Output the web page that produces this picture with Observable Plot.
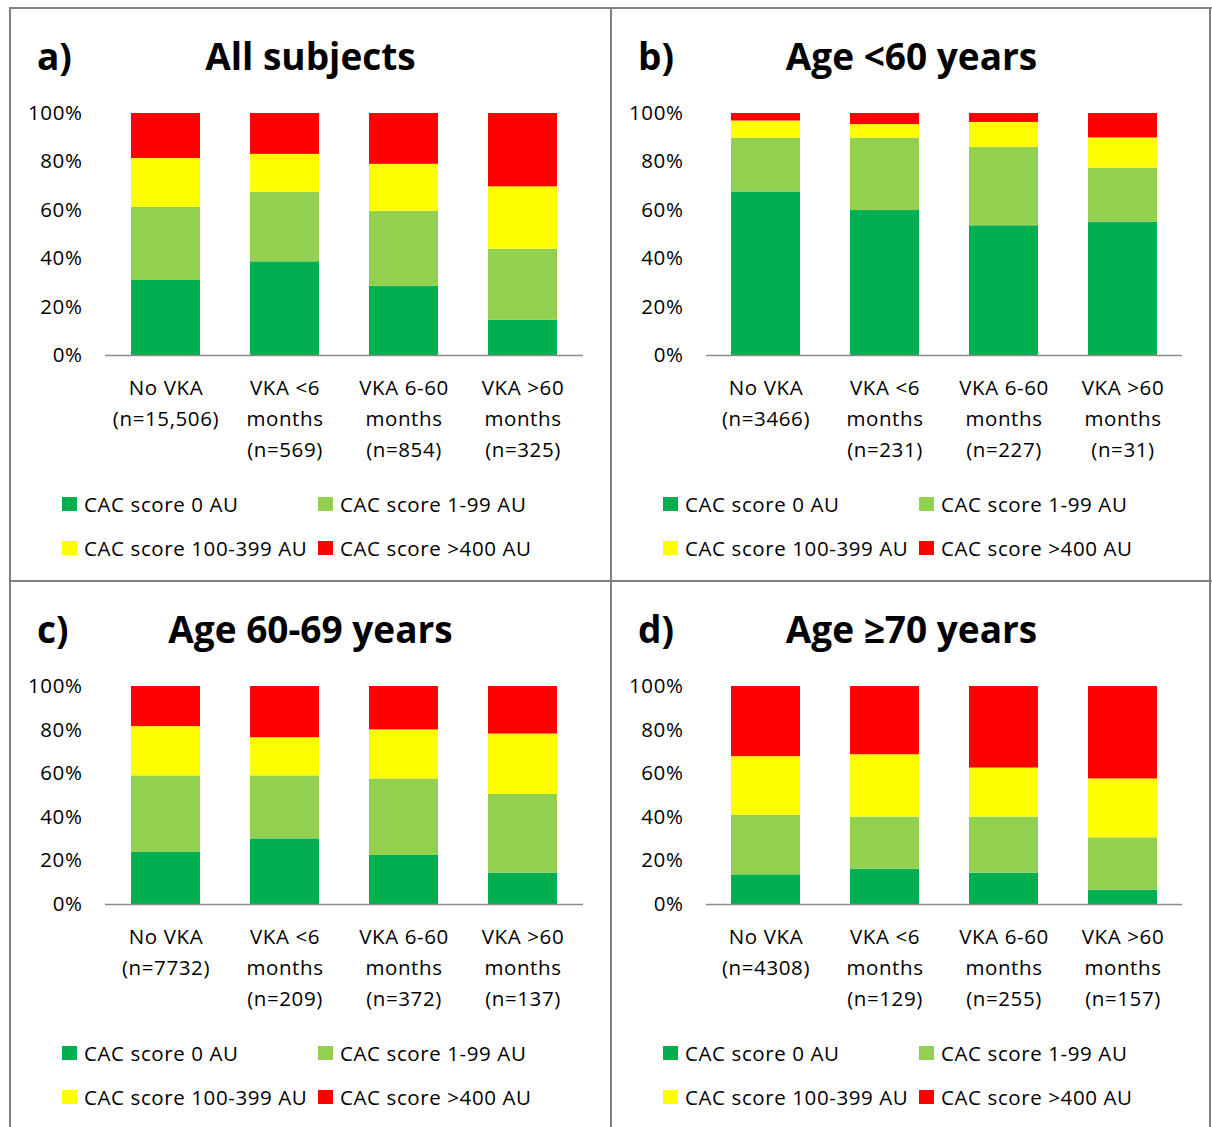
<!DOCTYPE html>
<html>
<head>
<meta charset="utf-8">
<script src="https://cdn.jsdelivr.net/npm/d3@7"></script>
<script src="https://cdn.jsdelivr.net/npm/@observablehq/plot@0.6"></script>
<style>
html, body { margin: 0; padding: 0; background: #fff; }
#page { position: relative; width: 1212px; height: 1127px; overflow: hidden; font-family: "Open Sans", sans-serif; color: #000; background: #fff; }
.line { position: absolute; background: #808080; }
.title { position: absolute; font-weight: 700; font-size: 37px; line-height: 37px; white-space: nowrap; }
.legrow { position: absolute; display: flex; align-items: center; height: 20px; font-size: 20.5px; line-height: 20px; letter-spacing: 0.6px; white-space: nowrap; }
.sw { width: 15px; height: 14px; flex: none; }
</style>
</head>
<body>
<div id="page"></div>
<script>
// ---- data ----
const groups = ["No VKA", "VKA <6\nmonths", "VKA 6-60\nmonths", "VKA >60\nmonths"];
const classes = ["CAC score 0 AU", "CAC score 1-99 AU", "CAC score 100-399 AU", "CAC score >400 AU"];
const classColors = ["#00b050", "#92d050", "#ffff00", "#ff0000"];
const yTicks = [0, 20, 40, 60, 80, 100];

const panelLetters = ["a)", "b)", "c)", "d)"];
const panelTitles = ["All subjects", "Age <60 years", "Age 60-69 years", "Age \u226570 years"];

const nAll = ["15,506", "569", "854", "325"];
const nUnder60 = ["3466", "231", "227", "31"];
const n60to69 = ["7732", "209", "372", "137"];
const n70plus = ["4308", "129", "255", "157"];

// percentages per CAC class (bottom to top), one value per group
const all_cac0 = [31.0, 38.7, 28.6, 14.6];
const all_cac1_99 = [30.2, 28.7, 31.0, 29.3];
const all_cac100_399 = [20.2, 15.7, 19.4, 25.8];
const all_cac400 = [18.6, 16.9, 21.0, 30.3];

const u60_cac0 = [67.6, 59.9, 53.6, 55.1];
const u60_cac1_99 = [22.2, 29.9, 32.4, 22.3];
const u60_cac100_399 = [7.1, 5.6, 10.3, 12.5];
const u60_cac400 = [3.1, 4.6, 3.7, 10.1];

const a6069_cac0 = [23.9, 30.1, 22.5, 14.4];
const a6069_cac1_99 = [35.1, 28.9, 35.1, 36.1];
const a6069_cac100_399 = [22.6, 17.5, 22.5, 27.7];
const a6069_cac400 = [18.4, 23.5, 19.9, 21.8];

const a70_cac0 = [13.6, 16.2, 14.4, 6.6];
const a70_cac1_99 = [27.3, 23.9, 25.7, 24.0];
const a70_cac100_399 = [26.9, 28.6, 22.5, 27.0];
const a70_cac400 = [32.2, 31.3, 37.4, 42.4];

const panelN = [nAll, nUnder60, n60to69, n70plus];
const panelSeries = [
  [all_cac0, all_cac1_99, all_cac100_399, all_cac400],
  [u60_cac0, u60_cac1_99, u60_cac100_399, u60_cac400],
  [a6069_cac0, a6069_cac1_99, a6069_cac100_399, a6069_cac400],
  [a70_cac0, a70_cac1_99, a70_cac100_399, a70_cac400]
];

// ---- layout ----
const page = document.getElementById("page");
function addLine(l, t, w, h) {
  const d = document.createElement("div");
  d.className = "line";
  Object.assign(d.style, {left: l + "px", top: t + "px", width: w + "px", height: h + "px"});
  page.appendChild(d);
}
addLine(9, 7, 1203, 2);
addLine(9, 7, 2, 1120);
addLine(1209, 7, 2, 1120);
addLine(610, 7, 2, 1120);
addLine(9, 580, 1203, 2);

// panel boxes: [left border, top border, plot left, plot right, plot top, plot bottom]
const boxes = [
  [10, 8, 105, 583, 113, 355],
  [611, 8, 706, 1182, 113, 355],
  [10, 581, 105, 583, 686, 904],
  [611, 581, 706, 1182, 686, 904]
];

boxes.forEach((b, p) => {
  const [x0, y0, pl, pr, pt, pb] = b;
  const labels = groups.map((g, i) => g + "\n(n=" + panelN[p][i] + ")");
  const rows = [];
  labels.forEach((lab, i) => {
    classes.forEach((c, k) => rows.push({group: lab, cls: c, value: panelSeries[p][k][i]}));
  });

  const svgLeft = x0 + 2, svgTop = pt - 30, svgW = 597, svgH = (pb + 125) - svgTop;
  const chart = Plot.plot({
    width: svgW,
    height: svgH,
    marginLeft: pl - svgLeft,
    marginRight: svgLeft + svgW - pr,
    marginTop: pt - svgTop,
    marginBottom: svgTop + svgH - pb,
    style: {fontFamily: "'Open Sans', sans-serif", fontSize: "20.5px", letterSpacing: "0.6px", color: "#000", background: "transparent", overflow: "visible"},
    x: {domain: labels, paddingInner: 0.42, paddingOuter: 0.21, label: null},
    y: {domain: [0, 100], label: null},
    color: {domain: classes, range: classColors},
    marks: [
      Plot.barY(rows, {x: "group", y: "value", fill: "cls"}),
      Plot.ruleY([0], {stroke: "#8a8a8a", strokeWidth: 1.6}),
      Plot.axisY({ticks: yTicks, tickSize: 0, tickPadding: 23, tickFormat: d => d + "%", label: null, fontSize: 20.5}),
      Plot.axisX({tickSize: 0, tickPadding: 17, label: null, lineHeight: 1.52, fontSize: 20.5})
    ]
  });
  chart.style.position = "absolute";
  chart.style.left = svgLeft + "px";
  chart.style.top = svgTop + "px";
  page.appendChild(chart);

  // titles
  const letter = document.createElement("div");
  letter.className = "title";
  letter.textContent = panelLetters[p];
  letter.style.left = (x0 + 27) + "px";
  letter.style.top = (y0 + 61.5 - 33) + "px";
  page.appendChild(letter);

  const title = document.createElement("div");
  title.className = "title";
  title.textContent = panelTitles[p];
  title.style.left = (x0 + 300.5) + "px";
  title.style.transform = "translateX(-50%)";
  title.style.top = (y0 + 61.5 - 33) + "px";
  page.appendChild(title);

  // legend
  const colX = [52, 308];
  const rowY = [148.5, 193];
  classes.forEach((c, k) => {
    const r = document.createElement("div");
    r.className = "legrow";
    r.style.left = (x0 + colX[k % 2]) + "px";
    r.style.top = (pb + rowY[Math.floor(k / 2)] - 10) + "px";
    const sw = document.createElement("div");
    sw.className = "sw";
    sw.style.background = classColors[k];
    sw.style.marginRight = "7px";
    const t = document.createElement("span");
    t.textContent = c;
    r.appendChild(sw);
    r.appendChild(t);
    page.appendChild(r);
  });
});
</script>
</body>
</html>
